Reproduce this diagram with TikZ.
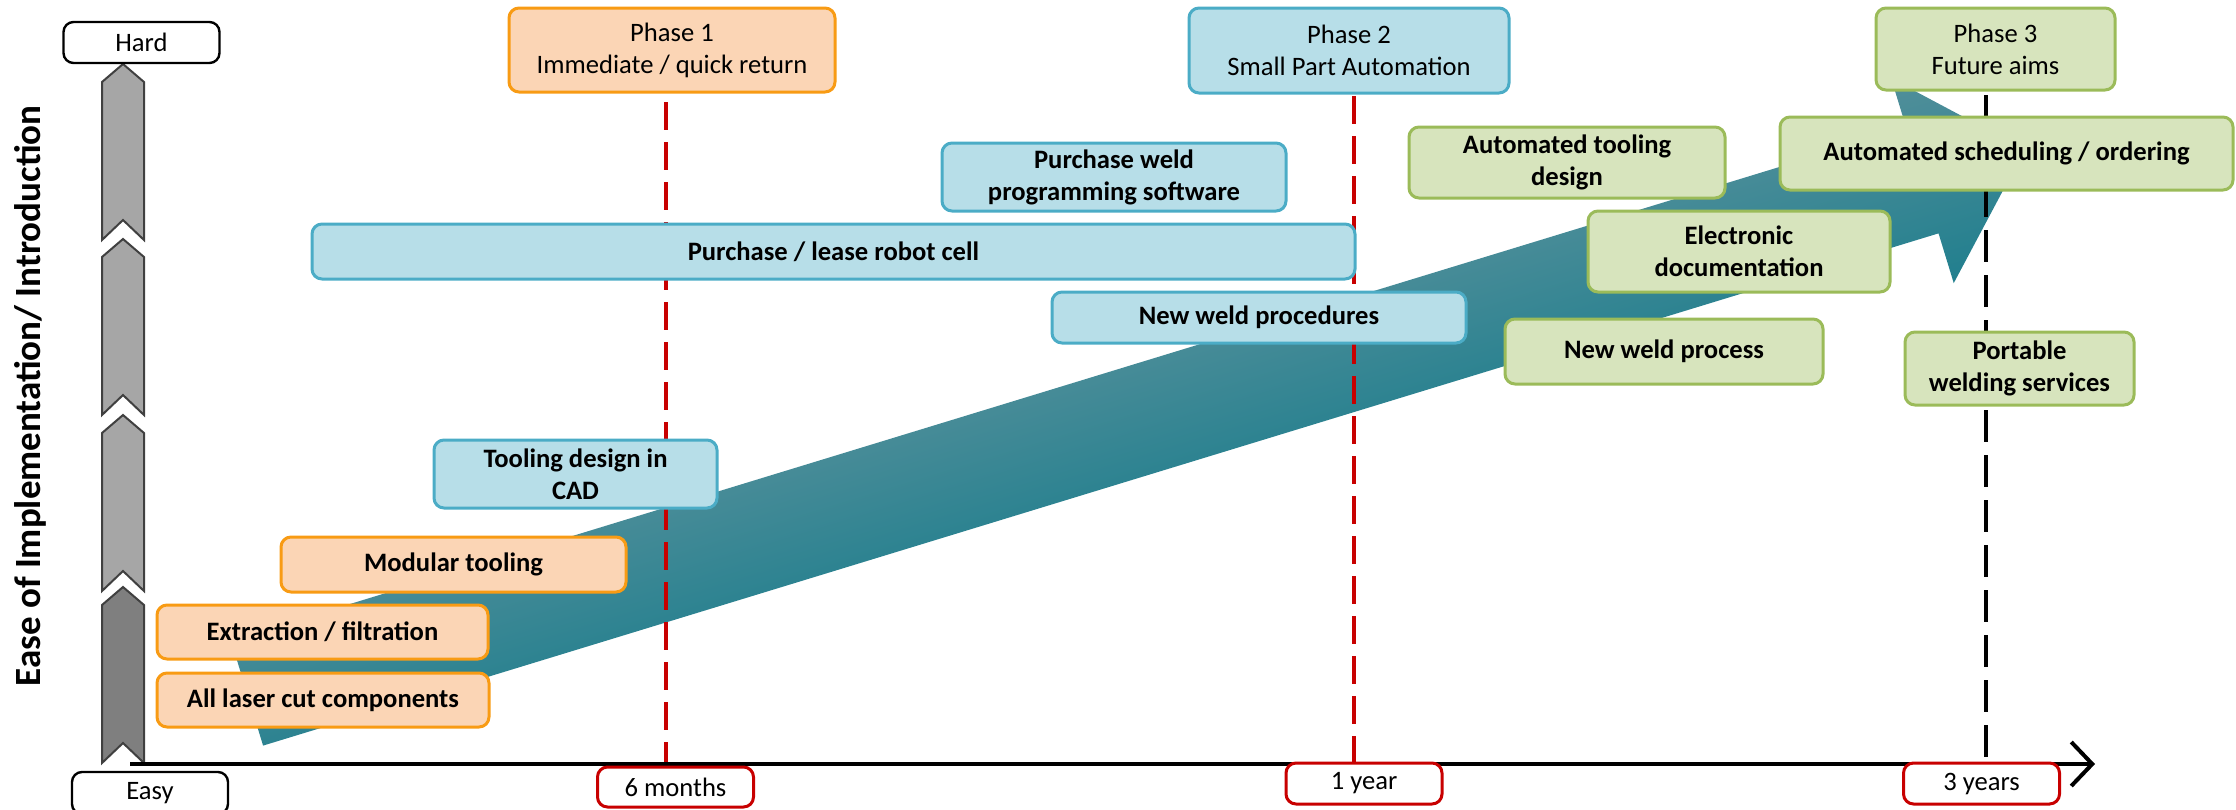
\documentclass[tikz,border=0pt]{standalone}
\usepackage{fontspec}
\setmainfont{Carlito}
\usetikzlibrary{arrows.meta}

\definecolor{orangefill}{RGB}{251,213,181}
\definecolor{orangeline}{RGB}{248,155,20}
\definecolor{bluefill}{RGB}{183,222,232}
\definecolor{blueline}{RGB}{75,172,198}
\definecolor{greenfill}{RGB}{215,228,189}
\definecolor{greenline}{RGB}{155,187,89}
\definecolor{markred}{RGB}{200,0,0}
\definecolor{tealtop}{RGB}{82,143,154}
\definecolor{tealbot}{RGB}{33,127,142}
\definecolor{chevgray}{RGB}{166,166,166}
\definecolor{chevdark}{RGB}{127,127,127}
\definecolor{chevline}{RGB}{64,64,64}

\tikzset{
  txt/.style={font=\fontsize{13.3}{16}\selectfont},
  bold/.style={font=\fontsize{13.3}{16}\selectfont\bfseries},
  card/.style={draw, rounded corners=5pt, line width=1.5pt, align=center, inner sep=0pt},
  obox/.style={card, bold, draw=orangeline, fill=orangefill},
  bbox/.style={card, bold, draw=blueline, fill=bluefill},
  gbox/.style={card, bold, draw=greenline, fill=greenfill},
  phase/.style={card, txt},
  tbox/.style={card, txt, draw=markred, fill=white, minimum width=78pt, minimum height=20.5pt},
  endbox/.style={card, txt, line width=1.2pt, draw=black, fill=white, minimum width=78pt},
  chev/.style={draw=chevline, line width=1pt, fill=chevgray},
  redline/.style={draw=markred, line width=2pt, dash pattern=on 14pt off 6pt},
  blackline/.style={draw=black, line width=2pt, dash pattern=on 16pt off 6.5pt},
  timeaxis/.style={line width=2pt, -{Straight Barb[length=10.5pt, width=22pt]}}
}

\begin{document}
\begin{tikzpicture}[x=0.5pt,y=-0.5pt]
  \useasboundingbox (0,0) rectangle (2236,809);

  % trend arrow, shaded across its width
  \begin{scope}[transform canvas={shift={(247,693)},rotate=17}]
    \shade[top color=tealtop, bottom color=tealbot]
      (0,-55) -- (1752,-55) -- (1752,-107) -- (1859,0)
      -- (1752,107) -- (1752,55) -- (0,55) -- cycle;
  \end{scope}

  % ease scale
  \foreach \b in {240,415,591}
    \draw[chev] (102,\b-158) -- (123,\b-176) -- (144,\b-158)
      -- (144,\b) -- (123,\b-20) -- (102,\b) -- cycle;
  \draw[chev, fill=chevdark] (102,605) -- (123,587) -- (144,605)
    -- (144,763) -- (123,743) -- (102,763) -- cycle;

  \node[rotate=90, font=\fontsize{18.5}{20}\selectfont\bfseries] (ease) at (30,396)
    {Ease of Implementation/ Introduction};
  \node[endbox, minimum height=20.5pt] (hard) at (141.5,42.5) {Hard};
  \node[endbox, minimum height=21pt] (easy) at (150,793) {Easy};

  % time axis and phase marks
  \coordinate (orig) at (130,764);
  \coordinate (xend) at (2095,764);
  \coordinate (m6top) at (666,102);
  \coordinate (m6) at (666,764);
  \coordinate (y1top) at (1354,96);
  \coordinate (y1) at (1354,764);
  \coordinate (y3top) at (1986,95);
  \coordinate (y3) at (1986,764);
  \draw[redline] (m6top) -- (m6);
  \draw[redline] (y1top) -- (y1);
  \draw[blackline] (y3top) -- (y3);
  \draw[timeaxis] (orig) -- (xend);

  \node[tbox, minimum height=20pt] (t6) at (675.5,787) {6 months};
  \node[tbox] (t1) at (1364,783.5) {1 year};
  \node[tbox] (t3) at (1981.5,783.5) {3 years};

  % phases
  \node[phase, draw=orangeline, fill=orangefill, minimum width=163pt, minimum height=42pt]
    (ph1) at (672,50) {Phase 1\\Immediate / quick return};
  \node[phase, draw=blueline, fill=bluefill, minimum width=160pt, minimum height=42.5pt]
    (ph2) at (1349,50.5) {Phase 2\\Small Part Automation};
  \node[phase, draw=greenline, fill=greenfill, minimum width=119.5pt, minimum height=41pt]
    (ph3) at (1995.5,49) {Phase 3\\Future aims};

  % phase 1 items
  \node[obox, minimum width=166pt, minimum height=27pt] (laser) at (323,700) {All laser cut components};
  \node[obox, minimum width=165.5pt, minimum height=27pt] (extract) at (322.5,632) {Extraction / filtration};
  \node[obox, minimum width=172.5pt, minimum height=27.5pt] (modular) at (453.5,564.5) {Modular tooling};

  % phase 2 items
  \node[bbox, minimum width=141.5pt, minimum height=34pt] (cad) at (575.5,474) {Tooling design in\\CAD};
  \node[bbox, minimum width=521.5pt, minimum height=27.5pt] (robot) at (833.5,251.5) {Purchase / lease robot cell};
  \node[bbox, minimum width=172pt, minimum height=34pt] (software) at (1114,177) {Purchase weld\\programming software};
  \node[bbox, minimum width=207pt, minimum height=25.5pt] (procs) at (1259,317.5) {New weld procedures};

  % phase 3 items
  \node[gbox, minimum width=158pt, minimum height=35.5pt] (autotool) at (1567,162.5) {Automated tooling\\design};
  \node[gbox, minimum width=151pt, minimum height=40.5pt] (edoc) at (1739,251.5) {Electronic\\documentation};
  \node[gbox, minimum width=159pt, minimum height=32.5pt] (process) at (1664,351.5) {New weld process};
  \node[gbox, minimum width=226.5pt, minimum height=36.5pt] (sched) at (2006.5,153.5) {Automated scheduling / ordering};
  \node[gbox, minimum width=114.5pt, minimum height=36.5pt] (portable) at (2019.5,368.5) {Portable\\welding services};
\end{tikzpicture}
\end{document}
